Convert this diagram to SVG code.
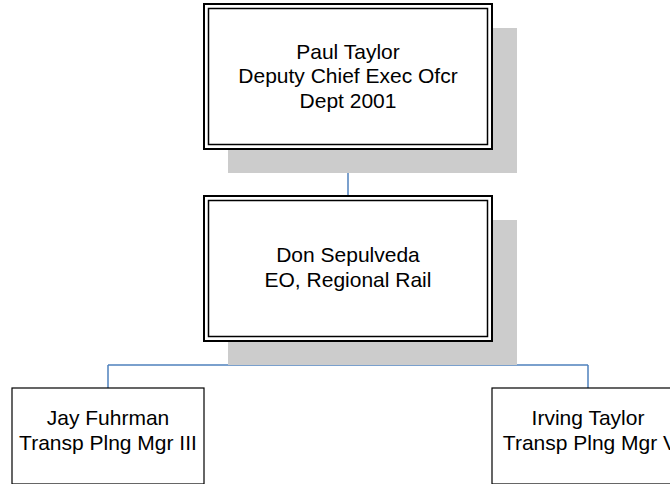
<svg xmlns="http://www.w3.org/2000/svg" width="670" height="484" viewBox="0 0 670 484">
<style>
.shadow{fill:#cccccc;stroke:none}
.outer{fill:#ffffff;stroke:#000000;stroke-width:2}
.inner{fill:none;stroke:#000000;stroke-width:1.5}
.box{fill:#ffffff;stroke:#000000;stroke-width:1.2}
.conn{fill:none;stroke:#4f81bd;stroke-width:1.5}
text{font-family:"Liberation Sans",Arial,sans-serif;font-size:21px;fill:#000000;text-anchor:middle}
</style>
<rect width="670" height="484" fill="#ffffff"/>
<g id="connectors">
<path class="conn" d="M348,149 V196"/>
<path class="conn" d="M348,341 V365 M108,365 H588 M108,365 V388 M588,365 V388"/>
</g>
<g id="node-paul-taylor">
<rect class="shadow" x="228" y="28" width="289" height="145"/>
<rect class="outer" x="204" y="4" width="288" height="145"/>
<rect class="inner" x="208.5" y="8.5" width="279" height="136"/>
<text x="348" y="58.5">Paul Taylor</text>
<text x="348" y="83">Deputy Chief Exec Ofcr</text>
<text x="348" y="107.5">Dept 2001</text>
</g>
<g id="node-don-sepulveda">
<rect class="shadow" x="228" y="220" width="289" height="145"/>
<rect class="outer" x="204" y="196" width="288" height="145"/>
<rect class="inner" x="208.5" y="200.5" width="279" height="136"/>
<text x="348" y="262">Don Sepulveda</text>
<text x="348" y="287">EO, Regional Rail</text>
</g>
<g id="node-jay-fuhrman">
<rect class="box" x="12" y="388" width="192" height="96"/>
<text x="108" y="425">Jay Fuhrman</text>
<text x="108" y="450">Transp Plng Mgr III</text>
</g>
<g id="node-irving-taylor">
<rect class="box" x="492" y="388" width="192" height="96"/>
<text x="588" y="425">Irving Taylor</text>
<text x="590" y="450">Transp Plng Mgr V</text>
</g>
</svg>
